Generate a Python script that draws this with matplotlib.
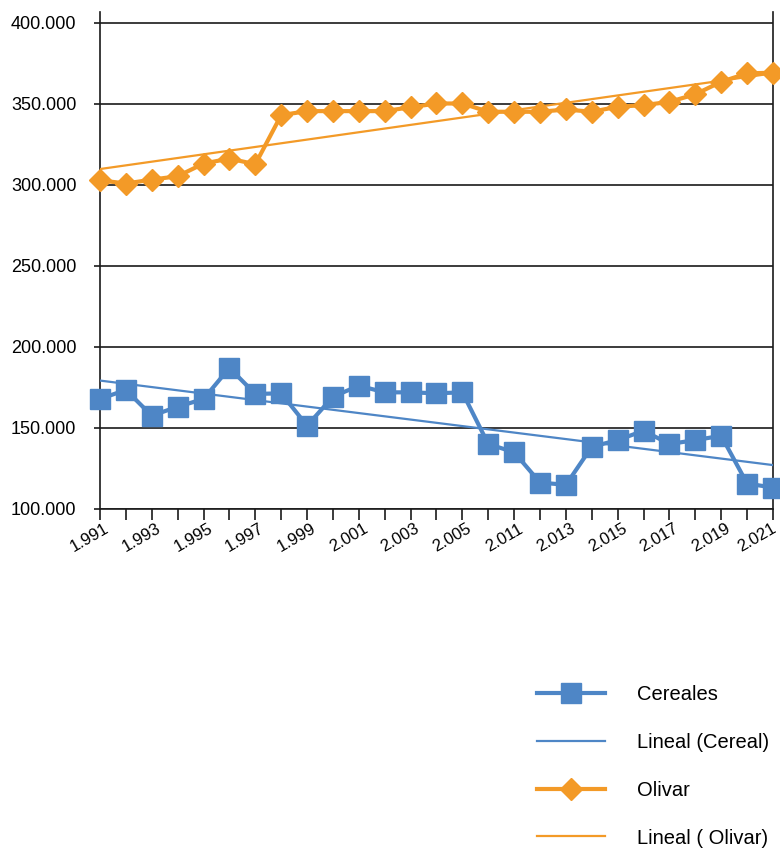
import numpy as np
import matplotlib
matplotlib.use('Agg')
import matplotlib.pyplot as plt
import matplotlib.transforms as mtransforms
from matplotlib.ticker import FuncFormatter

plt.rcParams['font.family'] = ['Liberation Sans', 'DejaVu Sans']

years = [1991, 1992, 1993, 1994, 1995, 1996, 1997, 1998, 1999, 2000, 2001, 2002, 2003, 2004, 2005,
         2010, 2011, 2012, 2013, 2014, 2015, 2016, 2017, 2018, 2019, 2020, 2021]

cereales = [167900, 173500, 157600, 163100, 167900, 187100, 171000, 171400, 151400, 169300, 176100,
            172000, 172000, 171400, 172000, 140100, 135000, 116300, 114900, 138400, 142500, 148300,
            140100, 142500, 145200, 115700, 113200]

olivar = [302900, 300900, 303300, 305400, 313200, 316300, 312800, 343100, 345600, 345600, 345600,
          345600, 348000, 350300, 350300, 345200, 345200, 345200, 346600, 345200, 348300, 349300,
          351300, 356000, 363700, 368900, 369300]

azul = '#4e86c6'
naranja = '#f39a27'

def miles(v, pos=None):
	return '{:,.0f}'.format(v).replace(',', '.')

x = np.arange(len(years))

# lineal trend over the category index
tc = np.polyval(np.polyfit(x, cereales, 1), x)
to = np.polyval(np.polyfit(x, olivar, 1), x)

fig = plt.figure(figsize=(7.8, 8.49), dpi=100)
ax = fig.add_axes([0.1282, 0.4005, 0.8628, 0.5854])

l1, = ax.plot(x, cereales, color=azul, lw=3, marker='s', ms=14, label='Cereales', clip_on=False, zorder=4)
l2, = ax.plot(x, tc, color=azul, lw=1.6, label='Lineal (Cereal)', zorder=3)
l3, = ax.plot(x, olivar, color=naranja, lw=3, marker='D', ms=11, label='Olivar', clip_on=False, zorder=4)
l4, = ax.plot(x, to, color=naranja, lw=1.6, label='Lineal ( Olivar)', zorder=3)

ax.set_xlim(0, len(years) - 1)
ax.set_ylim(100000, 406800)
ax.set_yticks(np.arange(100000, 400001, 50000))
ax.yaxis.set_major_formatter(FuncFormatter(miles))
ax.grid(axis='y', color='#1a1a1a', lw=1.2)
ax.set_axisbelow(True)

ax.set_xticks(x)
labels = [miles(y) if i % 2 == 0 else '' for i, y in enumerate(years)]
ax.set_xticklabels(labels, rotation=30, ha='right', va='top', rotation_mode='anchor')

ax.tick_params(axis='y', length=4, width=1.2, color='#1a1a1a', labelsize=13, pad=13)
ax.tick_params(axis='x', length=8, width=1.2, color='#1a1a1a', labelsize=12, pad=0)

# nudge the slanted year labels a little to the right (the last one stays inside the figure)
etiquetas = ax.get_xticklabels()
for i, t in enumerate(etiquetas):
	dx = 4 if i < len(etiquetas) - 1 else -2
	desplaza = mtransforms.ScaledTranslation(dx / 100, -1 / 100, fig.dpi_scale_trans)
	t.set_transform(t.get_transform() + desplaza)

for s in ['left', 'right', 'bottom']:
	ax.spines[s].set_color('#1a1a1a')
	ax.spines[s].set_linewidth(1.2)
ax.spines['top'].set_visible(False)

fig.legend(handles=[l1, l2, l3, l4], loc='upper left', bbox_to_anchor=(0.688, 0.193),
           frameon=False, fontsize=14.5, handlelength=3.38, handletextpad=1.6,
           labelspacing=1.43, borderpad=0, borderaxespad=0)

plt.savefig('out.png', dpi=100)
